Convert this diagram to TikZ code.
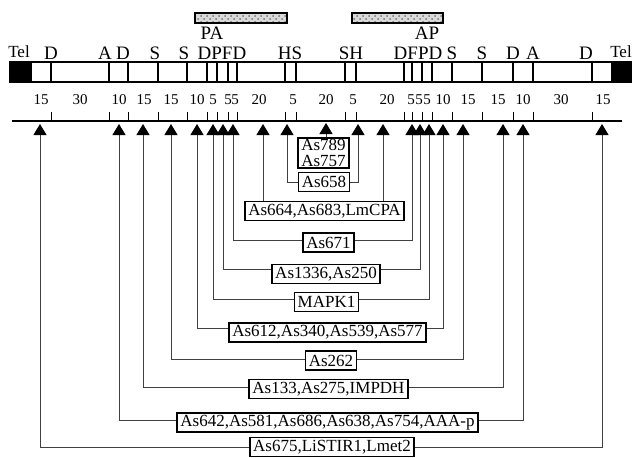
\documentclass[tikz,border=0pt]{standalone}
\usepackage{fontspec}
\setmainfont{Liberation Serif}
\usetikzlibrary{arrows.meta,patterns}

\begin{document}
\begin{tikzpicture}[x=0.5pt,y=-0.5pt,
  box/.style={draw,line width=0.8pt,inner xsep=1.6pt,inner ysep=0pt,minimum height=9.5pt,font=\fontsize{8.5}{8}\selectfont},
  link/.style={draw=black!75,line width=0.5pt,-{Triangle[width=6.5pt,length=5.5pt,color=black]}},
  lbl/.style={inner sep=0pt,anchor=base,font=\fontsize{9.5}{10}\selectfont},
  num/.style={inner sep=0pt,anchor=base,font=\fontsize{7.5}{8}\selectfont}]
\useasboundingbox (0,0) rectangle (635,457);

% probe bars
\fill[gray!30] (195,13) rectangle (287,23);
\fill[pattern=crosshatch dots,pattern color=black!55] (195,13) rectangle (287,23);
\draw[line width=0.6pt] (195,13) rectangle (287,23);
\fill[gray!30] (352,13) rectangle (443,23);
\fill[pattern=crosshatch dots,pattern color=black!55] (352,13) rectangle (443,23);
\draw[line width=0.6pt] (352,13) rectangle (443,23);

% chromosome
\draw[line width=0.7pt] (10,62) rectangle (631,82);
\fill[black] (10,62) rectangle (32,82);
\fill[black] (611,62) rectangle (631,82);
\draw[line width=0.6pt] (51,62) -- (51,82) (109,62) -- (109,82) (128,62) -- (128,82)
  (158,62) -- (158,82) (187,62) -- (187,82) (207,62) -- (207,82) (217,62) -- (217,82)
  (228,62) -- (228,82) (237,62) -- (237,82) (285,62) -- (285,82) (296,62) -- (296,82);
\draw[line width=0.6pt] (345,62) -- (345,82) (356,62) -- (356,82) (404,62) -- (404,82)
  (412,62) -- (412,82) (422,62) -- (422,82) (432,62) -- (432,82) (452,62) -- (452,82)
  (482,62) -- (482,82) (513,62) -- (513,82) (533,62) -- (533,82) (592,62) -- (592,82);

% labels above the chromosome
\node[lbl,font=\fontsize{8.5}{9}\selectfont] (tel1) at (19,57) {Tel};
\node[lbl] (lD1) at (51,59) {D};
\node[lbl] (lA1) at (105,59) {A};
\node[lbl] (lD2) at (123,59) {D};
\node[lbl] (lS1) at (155,59) {S};
\node[lbl] (lS2) at (184,59) {S};
\node[lbl] (lDPFD) at (222,59) {DPFD};
\node[lbl] (lPA) at (212,39) {PA};
\node[lbl] (lHS) at (290,59) {HS};
\node[lbl] (lSH) at (351,59) {SH};
\node[lbl] (lDFPD) at (418,59) {DFPD};
\node[lbl] (lAP) at (427,39) {AP};
\node[lbl] (lS3) at (452,59) {S};
\node[lbl] (lS4) at (482,59) {S};
\node[lbl] (lD3) at (513,59) {D};
\node[lbl] (lA2) at (533,59) {A};
\node[lbl] (lD4) at (586,59) {D};
\node[lbl,font=\fontsize{8.5}{9}\selectfont] (tel2) at (621,57) {Tel};

% sizes
\node[num] (n1) at (41,104) {15};
\node[num] (n2) at (80,104) {30};
\node[num] (n3) at (119,104) {10};
\node[num] (n4) at (144,104) {15};
\node[num] (n5) at (171,104) {15};
\node[num] (n6) at (197,104) {10};
\node[num] (n7) at (213,104) {5};
\node[num] (n8) at (228,104) {5};
\node[num] (n9) at (235,104) {5};
\node[num] (n10) at (259,104) {20};
\node[num] (n11) at (293,104) {5};
\node[num] (n12) at (326,104) {20};
\node[num] (n13) at (353,104) {5};
\node[num] (n14) at (387,104) {20};
\node[num] (n15) at (411,104) {5};
\node[num] (n16) at (419,104) {5};
\node[num] (n17) at (427,104) {5};
\node[num] (n18) at (443,104) {10};
\node[num] (n19) at (468,104) {15};
\node[num] (n20) at (498,104) {15};
\node[num] (n21) at (523,104) {10};
\node[num] (n22) at (561,104) {30};
\node[num] (n23) at (603,104) {15};

% map line with ticks
\draw[line width=0.8pt] (12,121) -- (622,121);
\draw[line width=0.5pt] (51,112) -- (51,121) (109,112) -- (109,121) (128,112) -- (128,121)
  (158,112) -- (158,121) (187,112) -- (187,121) (207,112) -- (207,121) (217,112) -- (217,121)
  (228,112) -- (228,121) (237,112) -- (237,121) (285,112) -- (285,121) (296,112) -- (296,121);
\draw[line width=0.5pt] (345,112) -- (345,121) (356,112) -- (356,121) (404,112) -- (404,121)
  (412,112) -- (412,121) (422,112) -- (422,121) (432,112) -- (432,121) (452,112) -- (452,121)
  (482,112) -- (482,121) (513,112) -- (513,121) (533,112) -- (533,121) (592,112) -- (592,121);

% arrow tips
\coordinate (a40) at (40,124);
\coordinate (a119) at (119,124);
\coordinate (a143) at (143,124);
\coordinate (a171) at (171,124);
\coordinate (a197) at (197,124);
\coordinate (a213) at (213,124);
\coordinate (a223) at (223,124);
\coordinate (a233) at (233,124);
\coordinate (a263) at (263,124);
\coordinate (a287) at (287,124);
\coordinate (a326) at (326,123);
\coordinate (a358) at (358,124);
\coordinate (a383) at (383,124);
\coordinate (a412) at (412,124);
\coordinate (a420) at (420,124);
\coordinate (a429) at (429,124);
\coordinate (a443) at (443,124);
\coordinate (a463) at (463,124);
\coordinate (a503) at (503,124);
\coordinate (a523) at (523,124);
\coordinate (a602) at (602,124);

% clones
\node[box,align=center,minimum height=15pt,font=\fontsize{8.5}{8.3}\selectfont] (b789) at (323.5,153) {As789\\As757};
\node[box] (b658) at (324,182) {As658};
\node[box] (b664) at (324.5,211) {As664,As683,LmCPA};
\node[box] (b671) at (328.5,242.5) {As671};
\node[box] (b1336) at (326,274) {As1336,As250};
\node[box] (bmapk) at (326.5,302) {MAPK1};
\node[box] (b612) at (327.5,332.5) {As612,As340,As539,As577};
\node[box] (b262) at (331,360.5) {As262};
\node[box] (b133) at (328.5,389) {As133,As275,IMPDH};
\node[box] (b642) at (327.5,422.5) {As642,As581,As686,As638,As754,AAA-p};
\node[box] (b675) at (332,447) {As675,LiSTIR1,Lmet2};

% connectors
\draw[link] (a326 |- b789.north) -- (a326);
\draw[link] (b658.west) -| (a287);
\draw[link] (b658.east) -| (a358);
\draw[link] (a263 |- b664.north) -- (a263);
\draw[link] (a383 |- b664.north) -- (a383);
\draw[link] ([yshift=1.25pt]b671.west) -| (a233);
\draw[link] ([yshift=1.25pt]b671.east) -| (a412);
\draw[link] ([yshift=2.5pt]b1336.west) -| (a223);
\draw[link] ([yshift=2.5pt]b1336.east) -| (a420);
\draw[link] ([yshift=1.5pt]bmapk.west) -| (a213);
\draw[link] ([yshift=1.5pt]bmapk.east) -| (a429);
\draw[link] ([yshift=2.25pt]b612.west) -| (a197);
\draw[link] ([yshift=2.25pt]b612.east) -| (a443);
\draw[link] ([yshift=0.75pt]b262.west) -| (a171);
\draw[link] ([yshift=0.75pt]b262.east) -| (a463);
\draw[link] ([yshift=1pt]b133.west) -| (a143);
\draw[link] ([yshift=1pt]b133.east) -| (a503);
\draw[link] ([yshift=1.25pt]b642.west) -| (a119);
\draw[link] ([yshift=1.25pt]b642.east) -| (a523);
\draw[link] (b675.west) -| (a40);
\draw[link] (b675.east) -| (a602);
\end{tikzpicture}
\end{document}
